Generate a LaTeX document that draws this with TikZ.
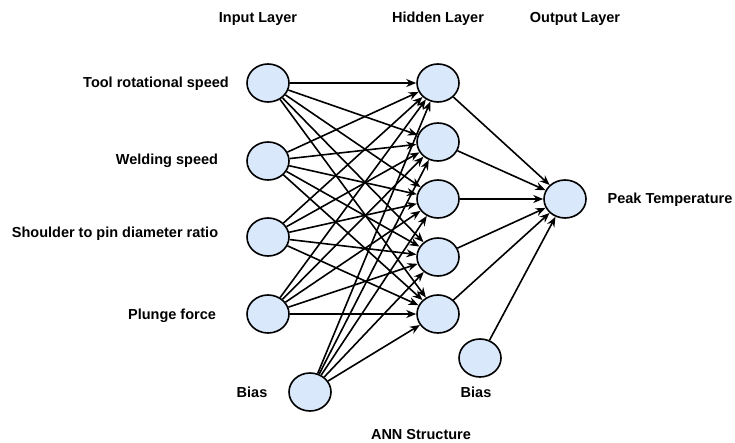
\documentclass[tikz,border=0pt]{standalone}
\usepackage{fontspec}
\setmainfont{Liberation Sans}
\usetikzlibrary{arrows.meta}
\definecolor{neuronfill}{HTML}{DAE8FC}
\tikzset{
  neuron/.style={draw=black,line width=1.6pt,fill=neuronfill,ellipse,minimum width=42pt,minimum height=38pt,inner sep=0pt},
  lbl/.style={font=\bfseries\fontsize{14.5pt}{16pt}\selectfont,inner sep=0pt},
  link/.style={line width=1.6pt,-{Stealth[length=10pt,width=8pt]}}
}
\usetikzlibrary{shapes.geometric}
\begin{document}
\begin{tikzpicture}[x=1pt,y=-1pt]
      \useasboundingbox (0,0) rectangle (735,442);
      \draw
        (268,83) node[neuron] (in1){}
        (268,161) node[neuron] (in2){}
        (268,237) node[neuron] (in3){}
        (268,314) node[neuron] (in4){}
        (310,392) node[neuron] (inb){}
        (438,83) node[neuron] (h1){}
        (438,142) node[neuron] (h2){}
        (438,199) node[neuron] (h3){}
        (438,257) node[neuron] (h4){}
        (438,314) node[neuron] (h5){}
        (480,358) node[neuron] (hb){}
        (565,199) node[neuron] (out){};
      \draw
        (258,19) node[lbl] (tin){Input Layer}
        (438,19) node[lbl] (thid){Hidden Layer}
        (575,19) node[lbl] (tout){Output Layer}
        (156,84) node[lbl] (l1){Tool rotational speed}
        (167,161) node[lbl] (l2){Welding speed}
        (115,234) node[lbl] (l3){Shoulder to pin diameter ratio}
        (172,316) node[lbl] (l4){Plunge force}
        (252,392) node[lbl] (lb1){Bias}
        (476,392) node[lbl] (lb2){Bias}
        (670,200) node[lbl] (lout){Peak Temperature}
        (421,434) node[lbl] (cap){ANN Structure};
      \begin{scope}[link]
        \draw (in1) to (h1);
        \draw (in1) to (h2);
        \draw (in1) to (h3);
        \draw (in1) to (h4);
        \draw (in1) to (h5);
        \draw (in2) to (h1);
        \draw (in2) to (h2);
        \draw (in2) to (h3);
        \draw (in2) to (h4);
        \draw (in2) to (h5);
        \draw (in3) to (h1);
        \draw (in3) to (h2);
        \draw (in3) to (h3);
        \draw (in3) to (h4);
        \draw (in3) to (h5);
        \draw (in4) to (h1);
        \draw (in4) to (h2);
        \draw (in4) to (h3);
        \draw (in4) to (h4);
        \draw (in4) to (h5);
        \draw (inb) to (h1);
        \draw (inb) to (h2);
        \draw (inb) to (h3);
        \draw (inb) to (h4);
        \draw (inb) to (h5);
        \draw (h1) to (out);
        \draw (h2) to (out);
        \draw (h3) to (out);
        \draw (h4) to (out);
        \draw (h5) to (out);
        \draw (hb) to (out);
      \end{scope}
    \end{tikzpicture}
\end{document}
